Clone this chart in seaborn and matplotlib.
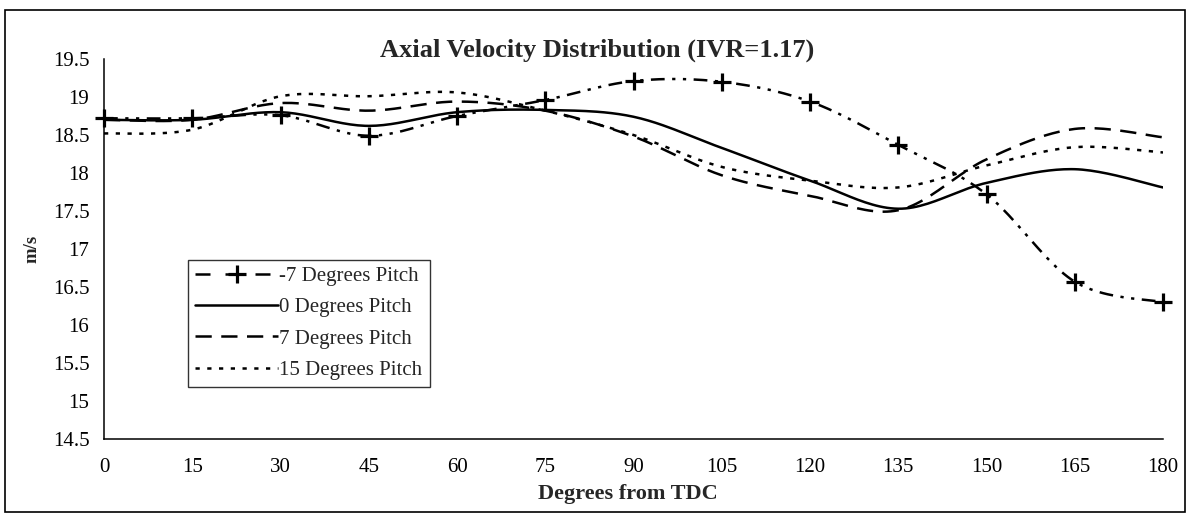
import numpy as np
import pandas as pd
import matplotlib
matplotlib.use("Agg")
import matplotlib.pyplot as plt
from matplotlib.lines import Line2D
from matplotlib.patches import Rectangle
import seaborn as sns

# ---- data ----
degrees = [0, 15, 30, 45, 60, 75, 90, 105, 120, 135, 150, 165, 180]
pitch_m7 = [18.72, 18.72, 18.76, 18.49, 18.75, 18.96, 19.21, 19.20, 18.94, 18.37, 17.72, 16.57, 16.30]
pitch_0 = [18.70, 18.70, 18.80, 18.62, 18.80, 18.83, 18.74, 18.33, 17.90, 17.53, 17.87, 18.05, 17.81]
pitch_7 = [18.70, 18.70, 18.92, 18.82, 18.94, 18.82, 18.48, 17.97, 17.70, 17.51, 18.18, 18.58, 18.47]
pitch_15 = [18.52, 18.57, 19.01, 19.01, 19.06, 18.82, 18.50, 18.08, 17.90, 17.81, 18.10, 18.34, 18.27]
series_labels = ["-7 Degrees Pitch", "0 Degrees Pitch", "7 Degrees Pitch", "15 Degrees Pitch"]
x_ticks = list(range(0, 181, 15))
y_ticks = [14.5, 15, 15.5, 16, 16.5, 17, 17.5, 18, 18.5, 19, 19.5]
title = "Axial Velocity Distribution (IVR=1.17)"
x_label = "Degrees from TDC"
y_label = "m/s"


def smooth(xs, ys, n=24):
    """Catmull-Rom smoothed line through the data points (Excel 'smoothed line')."""
    pts = np.column_stack([xs, ys]).astype(float)
    P = np.vstack([pts[0], pts, pts[-1]])
    out = []
    t = np.linspace(0, 1, n, endpoint=False)[:, None]
    for i in range(1, len(P) - 2):
        p0, p1, p2, p3 = P[i - 1], P[i], P[i + 1], P[i + 2]
        c = 0.5 * ((2 * p1) + (-p0 + p2) * t + (2 * p0 - 5 * p1 + 4 * p2 - p3) * t ** 2
                   + (-p0 + 3 * p1 - 3 * p2 + p3) * t ** 3)
        out.append(c)
    out.append(pts[-1][None])
    arr = np.vstack(out)
    return arr[:, 0], arr[:, 1]


sns.set_theme(style="white")
plt.rcParams["font.family"] = ["Liberation Serif", "DejaVu Serif"]

fig = plt.figure(figsize=(11.89, 5.17), dpi=100)
ax = fig.add_axes([104 / 1189, 1 - 439 / 517, (1163 - 104) / 1189, (439 - 59) / 517])

styles = [
    dict(dashes=(5.5, 3.0, 1.3, 3.0, 1.3, 3.0)),
    dict(dashes=None),
    dict(dashes=(6.5, 3.8)),
    dict(dashes=(1.7, 3.0)),
]
lw = 1.8
all_series = [pitch_m7, pitch_0, pitch_7, pitch_15]
for vals, st in zip(all_series, styles):
    sx, sy = smooth(degrees, vals)
    df = pd.DataFrame({"x": sx, "y": sy})
    line_kw = dict(color="black", linewidth=lw)
    if st["dashes"] is not None:
        line_kw["dashes"] = st["dashes"]
    sns.lineplot(data=df, x="x", y="y", sort=False, estimator=None, ax=ax, **line_kw)

sns.scatterplot(x=degrees, y=pitch_m7, marker="+", s=150, color="black",
                linewidth=2.3, ax=ax, zorder=5, clip_on=False)

ax.set_xlim(0, 180)
ax.set_ylim(14.5, 19.5)
ax.set_xticks(x_ticks)
ax.set_xticklabels([str(v) for v in x_ticks])
ax.set_yticks(y_ticks)
ax.set_yticklabels([("%g" % v) for v in y_ticks])
ax.tick_params(axis="both", direction="inout", length=11, width=1.0, colors="black",
               labelsize=15, pad=5)
ax.tick_params(axis="x", pad=8)
for s in ["top", "right"]:
    ax.spines[s].set_visible(False)
for s in ["left", "bottom"]:
    ax.spines[s].set_color("black")
    ax.spines[s].set_linewidth(1.1)
ax.set_xlabel("")
ax.set_ylabel("")
ax.grid(False)
ax.set_facecolor("white")

fig.text(597 / 1189, 1 - 50 / 517, title, ha="center", va="center",
         fontsize=19, fontweight="bold")
fig.text(628 / 1189, 1 - 494 / 517, x_label, ha="center", va="center",
         fontsize=16, fontweight="bold")
fig.text(32 / 1189, 1 - 249 / 517, y_label, ha="center", va="center",
         fontsize=13.5, fontweight="bold", rotation=90)

handles = []
for lab, st in zip(series_labels, styles):
    h = Line2D([0], [0], color="black", linewidth=lw)
    if st["dashes"] is not None:
        h.set_dashes(st["dashes"])
    handles.append(h)
handles[0].set_dashes((6.0, 6.0))
handles[0].set_marker("+")
handles[0].set_markersize(13)
handles[0].set_markeredgewidth(2.3)
leg = ax.legend(handles=handles, labels=series_labels, loc="lower left",
                bbox_to_anchor=((188 - 104) / 1059, (439 - 387) / 380), fontsize=15,
                frameon=True, fancybox=False, edgecolor="black", handlelength=4.0,
                handletextpad=0.05, labelspacing=0.56, borderpad=0.34,
                borderaxespad=0.0, numpoints=1)
leg.get_frame().set_linewidth(1.0)

# outer chart border
fig.patches.append(Rectangle((5 / 1189, 1 - 512 / 517), (1185 - 5) / 1189, (512 - 10) / 517,
                             transform=fig.transFigure, fill=False, edgecolor="black",
                             linewidth=1.2))

fig.savefig("out.png", dpi=100, facecolor="white")
